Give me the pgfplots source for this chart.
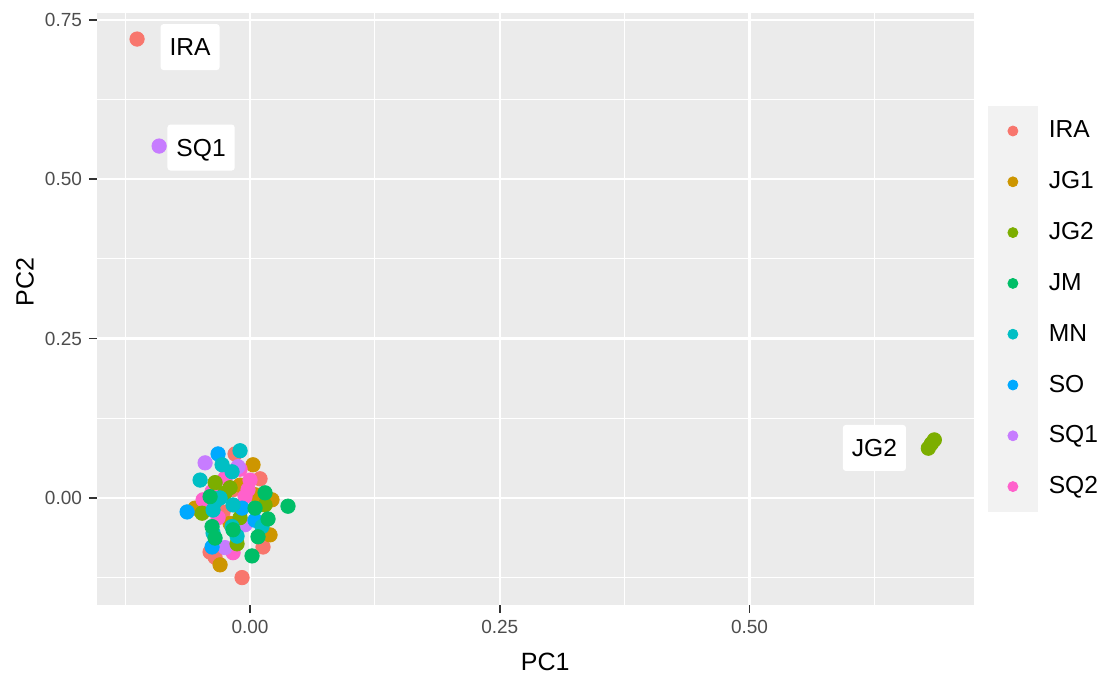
\documentclass[border=0pt]{standalone}
\usepackage{fontspec}
\setmainfont{Liberation Sans}
\usepackage{pgfplots}
\pgfplotsset{compat=1.18}
\definecolor{cIRA}{HTML}{F8766D}
\definecolor{cJGa}{HTML}{CD9600}
\definecolor{cJGb}{HTML}{7CAE00}
\definecolor{cJM}{HTML}{00BE67}
\definecolor{cMN}{HTML}{00BFC4}
\definecolor{cSO}{HTML}{00A9FF}
\definecolor{cSQa}{HTML}{C77CFF}
\definecolor{cSQb}{HTML}{FF61CC}
\definecolor{gray92}{HTML}{EBEBEB}
\definecolor{gray95}{HTML}{F2F2F2}
\definecolor{gray20}{HTML}{333333}
\definecolor{gray30}{HTML}{4D4D4D}
\pgfplotsset{grp/.style={only marks, mark=*, mark size=3.6pt, color=#1, mark options={draw=none, fill=#1}, forget plot}}
\newcommand{\lgd}[2]{\addlegendimage{only marks, mark=*, color=#1, mark options={draw=none, fill=#1}}\addlegendentry{#2}}
\begin{document}
\begin{tikzpicture}
\useasboundingbox (-48.5pt,-37pt) rectangle (508.5pt,302.5pt);
\begin{axis}[
  scale only axis, width=438.5pt, height=296.2pt,
  xmin=-0.1532, xmax=0.7247, ymin=-0.168, ymax=0.7614,
  axis background/.style={fill=gray92},
  axis line style={draw=none},
  xtick={0,0.25,0.5}, ytick={0,0.25,0.5,0.75},
  minor xtick={-0.125,0.125,0.375,0.625},
  minor ytick={-0.125,0.125,0.375,0.625},
  grid=both,
  major grid style={white, line width=1.1pt},
  minor grid style={white, line width=0.55pt},
  tick align=outside, major tick length=4pt, minor tick length=0pt,
  xtick pos=bottom, ytick pos=left,
  tick style={gray20, line width=0.9pt},
  ticklabel style={text=gray30, font=\fontsize{9.5}{11}\selectfont},
  /pgf/number format/fixed, /pgf/number format/fixed zerofill,
  /pgf/number format/precision=2, /pgf/number format/assume math mode=true,
  xlabel={PC1}, ylabel={PC2},
  label style={font=\fontsize{12.5}{14}\selectfont, text=black},
  xlabel style={at={(axis description cs:0.511,-0.0962)}, anchor=center},
  ylabel style={at={(axis description cs:-0.0821,0.545)}, anchor=center},
  legend style={at={(1,0.5)}, anchor=west, xshift=7pt, draw=none, fill=white,
    inner sep=0pt, outer sep=0pt, row sep=0pt,
    font=\fontsize{12.3}{14}\selectfont, nodes={inner sep=0pt, text=black}},
  legend cell align=left,
  legend image code/.code={\fill[gray95] (0pt,-12.5pt) rectangle (24.5pt,12.5pt);
    \draw[#1, mark size=2.5pt] plot coordinates {(12.25pt,0pt)};
    \path (30pt,0pt);},
]
\addplot[grp=cIRA] coordinates {(-0.1131,0.7199) (-0.015,0.069) (0.013,-0.077) (-0.035,-0.093) (-0.008,-0.125) (-0.027,-0.022) (-0.017,0.013) (-0.040,-0.085) (0.010,0.030)};
\addplot[grp=cJGa] coordinates {(0.003,0.052) (0.022,-0.003) (-0.055,-0.016) (0.020,-0.058) (-0.030,-0.105) (-0.010,0.020) (0.005,0.005) (-0.020,-0.040)};
\addplot[grp=cSQb] coordinates {(0.000,0.028) (-0.025,0.031) (-0.005,0.002) (-0.047,-0.003) (-0.032,-0.031) (-0.017,-0.086) (-0.002,0.013) (-0.038,0.010) (-0.010,0.045)};
\addplot[grp=cSQa] coordinates {(-0.091,0.552) (-0.045,0.055) (-0.012,0.049) (-0.025,-0.078) (-0.005,-0.042)};
\addplot[grp=cJGb] coordinates {(0.679,0.078) (0.685,0.091) (0.682,0.085) (-0.035,0.024) (-0.020,0.016) (-0.025,0.008) (0.015,-0.011) (-0.048,-0.024) (-0.010,-0.031) (-0.013,-0.072)};
\addplot[grp=cSO] coordinates {(-0.032,0.069) (-0.063,-0.022) (-0.008,-0.016) (0.005,-0.035) (-0.038,-0.077)};
\addplot[grp=cMN] coordinates {(-0.010,0.074) (-0.028,0.052) (-0.018,0.041) (-0.050,0.028) (-0.035,-0.006) (-0.037,-0.019) (-0.017,-0.011) (-0.018,-0.045) (0.012,-0.045) (-0.037,-0.055) (-0.013,-0.060) (-0.030,0.000)};
\addplot[grp=cJM] coordinates {(0.015,0.008) (-0.040,0.002) (0.038,-0.013) (0.005,-0.016) (0.018,-0.033) (-0.035,-0.063) (0.008,-0.061) (0.002,-0.091) (-0.017,-0.050) (-0.038,-0.045)};
\lgd{cIRA}{IRA}
\lgd{cJGa}{JG1}
\lgd{cJGb}{JG2}
\lgd{cJM}{JM}
\lgd{cMN}{MN}
\lgd{cSO}{SO}
\lgd{cSQa}{SQ1}
\lgd{cSQb}{SQ2}
\tikzset{lbl/.style={fill=white, rounded corners=1.5pt, inner xsep=4.5pt, inner ysep=0pt,
  text height=8.7pt, text depth=0pt, minimum height=23pt, text=black,
  font=\fontsize{12.3}{14}\selectfont}}
\node[lbl] at (axis cs:-0.060,0.7073) {IRA};
\node[lbl] at (axis cs:-0.049,0.5497) {SQ1};
\node[lbl] at (axis cs:0.625,0.0784) {JG2};
\end{axis}
\end{tikzpicture}
\end{document}
